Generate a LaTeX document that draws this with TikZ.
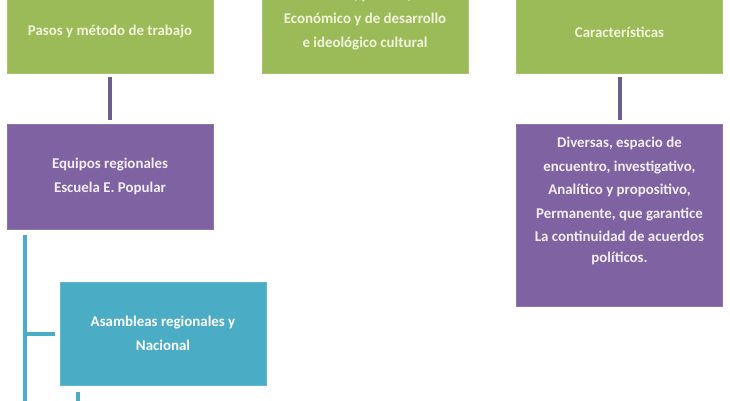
\documentclass[tikz,border=0pt]{standalone}
\usepackage{fontspec}
\setmainfont{Carlito}
\definecolor{ogreen}{HTML}{9BBB59}
\definecolor{ogreenb}{HTML}{A9C56C}
\definecolor{opurple}{HTML}{7F62A1}
\definecolor{opurpleb}{HTML}{8E74AC}
\definecolor{oteal}{HTML}{4BACC6}
\definecolor{otealb}{HTML}{62B8CF}
\definecolor{gtext}{HTML}{F2F5DC}
\definecolor{ptext}{HTML}{F3EEF8}
\definecolor{plink}{HTML}{6E5E8E}
\usetikzlibrary{calc}
\tikzset{
  box/.style={rectangle, inner sep=0pt, line width=0.8pt, align=center,
    font=\fontsize{14.9}{24}\selectfont\bfseries},
  gbox/.style={box, fill=ogreen, draw=ogreenb, text=gtext, minimum width=206pt, minimum height=82pt},
  pbox/.style={box, fill=opurple, draw=opurpleb, text=ptext, minimum width=206pt},
  tbox/.style={box, fill=oteal, draw=otealb, text=white, minimum width=206pt, minimum height=103pt},
  txt/.style={align=center, inner sep=0pt, font=\fontsize{14.9}{24}\selectfont\bfseries},
  plinkline/.style={draw=plink, line width=4pt},
  tlink/.style={draw=oteal, line width=4pt},
}
\begin{document}
\begin{tikzpicture}[x=1pt,y=-1pt]
\useasboundingbox (0,0) rectangle (730,400);
\fill[white] (0,0) rectangle (730,400);
% green header boxes
\node[gbox] (g1) at (110,32) {Pasos y método de trabajo};
\node[gbox] (g2) at (365,32) {};
\node[txt, text=gtext] (g2t) at (365,20) {Social, político,\\Económico y de desarrollo\\e ideológico cultural};
\node[gbox] (g3) at (619.5,32) {Características};
% purple boxes
\node[pbox, minimum height=105pt] (p1) at (110,176.5) {Equipos regionales\\Escuela E. Popular};
\node[pbox, minimum height=182pt] (p2) at (619.5,215) {};
\node[txt, text=ptext, font=\fontsize{14.9}{23.5}\selectfont\bfseries] (p2t) at (619.5,201)
  {Diversas, espacio de\\encuentro, investigativo,\\Analítico y propositivo,\\Permanente, que garantice\\La continuidad de acuerdos\\[-3pt]políticos.};
% teal box
\node[tbox] (t1) at (163,333.5) {Asambleas regionales y\\Nacional};
% connectors
\draw[plinkline, shorten <=4pt, shorten >=4pt] (g1.south) -- (p1.north);
\draw[plinkline, shorten <=4pt, shorten >=4pt] (g3.south) -- (p2.north);
\coordinate (tvtop) at ($(p1.south west)+(18,6)$);
\coordinate (tvbot) at (tvtop |- 0,405);
\coordinate (tbranch) at (tvtop |- t1.west);
\draw[tlink] (tvtop) -- (tvbot);
\draw[tlink, shorten >=5pt] (tbranch) -- (t1.west);
\coordinate (tdown) at ($(t1.south west)+(18,20)$);
\draw[tlink, shorten <=7pt] ($(t1.south west)+(18,0)$) -- (tdown);
\end{tikzpicture}
\end{document}
